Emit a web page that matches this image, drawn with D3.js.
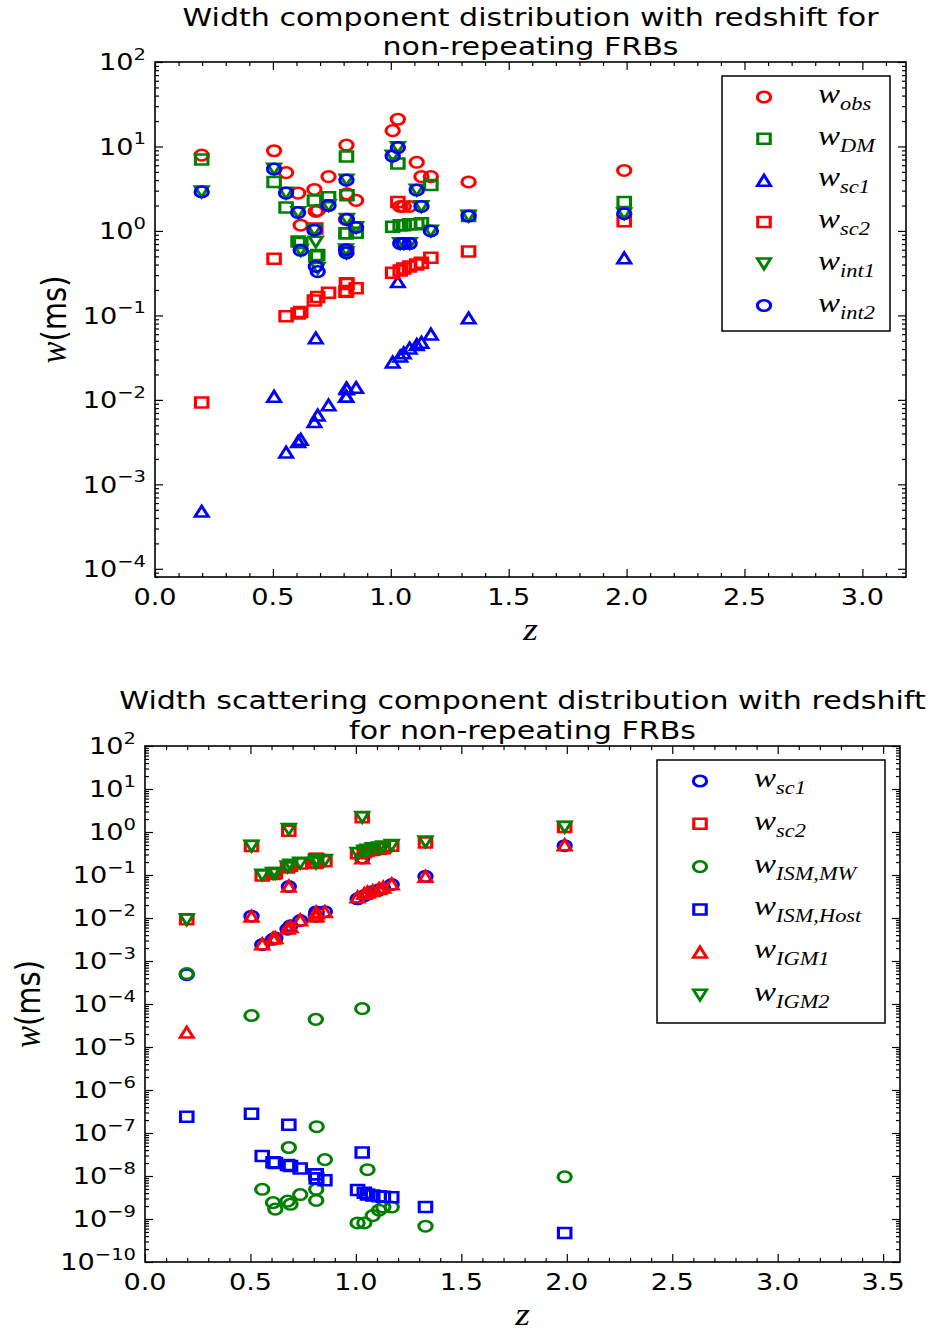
<!DOCTYPE html>
<html>
<head>
<meta charset="utf-8">
<script src="https://cdn.jsdelivr.net/npm/d3@7"></script>
<style>
  body { margin: 0; background: #fff; }
  text { fill: #000; }
</style>
</head>
<body>
<svg id="chart" width="937" height="1332"></svg>
<script>
// ---- data: one entry per non-repeating FRB ----
const z        = [0.198, 0.505, 0.556, 0.607, 0.618, 0.676, 0.682, 0.690, 0.736, 0.812, 0.814, 0.810, 0.812, 0.853,
                  1.008, 1.030, 1.040, 1.055, 1.080, 1.110, 1.130, 1.170, 1.330, 1.990];
// width components (ms)
const wObs     = [7.9, 8.9, 4.9, 2.8, 1.17, 3.1, 1.7, 1.75, 4.4, 10.4, 2.75, 1.37, 0.6, 2.3,
                  15.4, 21, 1.95, 1.95, 1.95, 6.5, 4.4, 4.4, 3.8, 5.2];
const wDM      = [7.0, 3.8, 1.9, 0.75, 0.72, 2.3, 0.5, 0.52, 2.5, 7.6, 2.65, 0.94, 0.94, 0.95,
                  1.12, 6.3, 1.17, 1.17, 1.2, 1.2, 1.23, 3.5, 1.5, 2.2];
const wSc1     = [4.8e-4, 0.011, 0.0024, 0.0032, 0.0034, 0.0055, 0.054, 0.0066, 0.0087, 0.0138, 0.0135, 0.011, 0.011, 0.014,
                  0.028, 0.25, 0.033, 0.036, 0.041, 0.045, 0.048, 0.060, 0.093, 0.48];
const wSc2     = [0.0093, 0.47, 0.098, 0.105, 0.11, 0.15, 1.07, 0.165, 0.186, 0.24, 0.235, 0.19, 0.195, 0.21,
                  0.32, 2.2, 0.34, 0.36, 0.38, 0.40, 0.42, 0.48, 0.57, 1.3];
const wInt1    = [2.9, 5.4, 2.8, 1.65, 0.59, 1.02, 0.74, 0.36, 2.0, 4.0, 1.37, 0.6, 0.55, 1.1,
                  7.7, 9.7, 0.71, 0.71, 0.71, 3.05, 1.95, 1.0, 1.5, 1.6];
const wInt2    = [2.9, 5.4, 2.8, 1.65, 0.59, 1.02, 0.38, 0.33, 2.0, 4.0, 1.37, 0.6, 0.55, 1.1,
                  7.7, 9.7, 0.71, 0.71, 0.71, 3.05, 1.95, 1.0, 1.5, 1.6];
// scattering sub-components (ms)
const wIsmMW   = [5.1e-4, 5.4e-5, 4.9e-9, 2.4e-9, 1.7e-9, 2.6e-9, 4.6e-8, 2.2e-9, 3.7e-9, 4.9e-9, 1.4e-7, 4.4e-5, 2.7e-9, 2.4e-8,
                  8.1e-10, 7.8e-5, 8.1e-10, 1.4e-8, 1.2e-9, 1.6e-9, 1.9e-9, 1.9e-9, 6.8e-10, 9.6e-9];
const wIsmHost = [2.4e-7, 2.8e-7, 2.9e-8, 2.1e-8, 2.0e-8, 1.8e-8, 1.55e-7, 1.7e-8, 1.5e-8, 1.1e-8, 8.9e-9, 1.1e-8, 8.9e-9, 8.0e-9,
                  4.7e-9, 3.5e-8, 4.1e-9, 3.7e-9, 3.5e-9, 3.4e-9, 3.3e-9, 3.2e-9, 1.9e-9, 4.7e-10];
const wIGM1    = [2.2e-5, 0.011, 0.0025, 0.0034, 0.0035, 0.0058, 0.055, 0.0063, 0.009, 0.0138, 0.013, 0.011, 0.0115, 0.014,
                  0.031, 0.25, 0.037, 0.040, 0.043, 0.048, 0.052, 0.062, 0.093, 0.50];
const wIGM2    = [0.0091, 0.47, 0.10, 0.11, 0.11, 0.155, 1.15, 0.17, 0.19, 0.22, 0.22, 0.19, 0.20, 0.22,
                  0.32, 2.2, 0.36, 0.38, 0.41, 0.43, 0.45, 0.49, 0.59, 1.3];

// ---- tick labels ----
const xTickLabelsTop    = ["0.0", "0.5", "1.0", "1.5", "2.0", "2.5", "3.0"];
const xTickLabelsBottom = ["0.0", "0.5", "1.0", "1.5", "2.0", "2.5", "3.0", "3.5"];
const yExponentsTop     = [-4, -3, -2, -1, 0, 1, 2];
const yExponentsBottom  = [-10, -9, -8, -7, -6, -5, -4, -3, -2, -1, 0, 1, 2];

// ---- styling ----
const RED = "#ff0000", GREEN = "#008000", BLUE = "#0000ff";
const SX = 1.25;          // markers are drawn wider than tall
const TX = 1.18;          // text is widened the same way
const SANS = "DejaVu Sans";
const SERIF = "Liberation Serif";

const svg = d3.select("#chart");

// exponent text with a true minus sign
const expText = e => (e < 0 ? "\u2212" : "") + Math.abs(e);

// text anchored at (x, y), widened horizontally
function addText(g, x, y, size, opts = {}) {
  const rot = opts.rotate ? ` rotate(${opts.rotate})` : "";
  return g.append("text")
    .attr("transform", `translate(${x},${y}) scale(${TX},1)${rot}`)
    .attr("text-anchor", opts.anchor || "start")
    .attr("font-family", opts.family || SANS)
    .attr("font-style", opts.italic ? "italic" : "normal")
    .attr("font-size", size);
}

// marker outlines in local coordinates
function markerPath(kind) {
  const p = d3.path();
  if (kind === "circle") {
    const r = 5.3;
    p.moveTo(r, 0); p.arc(0, 0, r, 0, 2 * Math.PI); p.closePath();
  } else if (kind === "square") {
    const h = 5.0;
    p.moveTo(-h, -h); p.lineTo(h, -h); p.lineTo(h, h); p.lineTo(-h, h); p.closePath();
  } else if (kind === "triUp") {
    const h = 5.3;
    p.moveTo(0, -h); p.lineTo(h, h); p.lineTo(-h, h); p.closePath();
  } else {
    const h = 5.3;
    p.moveTo(0, h); p.lineTo(h, -h); p.lineTo(-h, -h); p.closePath();
  }
  return p.toString();
}

function drawMarker(g, kind, color, x, y) {
  g.append("path")
    .attr("d", markerPath(kind))
    .attr("transform", `translate(${x},${y}) scale(${SX},1)`)
    .attr("fill", "none")
    .attr("stroke", color)
    .attr("stroke-width", 2.5)
    .attr("stroke-linejoin", "miter");
}

function drawPanel(cfg) {
  const x = d3.scaleLinear().domain([0, cfg.xMax]).range([cfg.left, cfg.right]);
  const y = d3.scaleLog().domain([cfg.yMin, cfg.yMax]).range([cfg.bottom, cfg.top]);
  const g = svg.append("g");

  // tick positions
  const xMajor = cfg.xLabels.map(s => +s);
  const xMinor = d3.range(0, Math.floor(cfg.xMax * 10 + 1e-6) + 1).map(i => i / 10)
    .filter(v => !xMajor.some(m => Math.abs(m - v) < 1e-9));
  const yMajor = cfg.yExps.map(e => Math.pow(10, e));
  const yMinor = [];
  const e0 = Math.floor(Math.log10(cfg.yMin)), e1 = Math.ceil(Math.log10(cfg.yMax));
  for (let e = e0; e < e1; e++) for (let k = 2; k <= 9; k++) {
    const v = k * Math.pow(10, e);
    if (v >= cfg.yMin && v <= cfg.yMax) yMinor.push(v);
  }

  const w = cfg.right - cfg.left, h = cfg.bottom - cfg.top;
  const tickStyle = sel => {
    sel.select(".domain").remove();
    sel.selectAll("line").attr("stroke", "#000").attr("stroke-width", 1.2);
  };
  const MAJ = 8, MIN = 4;
  // inward ticks on all four sides
  g.append("g").attr("transform", `translate(0,${cfg.bottom})`)
    .call(d3.axisBottom(x).tickValues(xMajor).tickSize(-MAJ).tickFormat("")).call(tickStyle);
  g.append("g").attr("transform", `translate(0,${cfg.bottom})`)
    .call(d3.axisBottom(x).tickValues(xMinor).tickSize(-MIN).tickFormat("")).call(tickStyle);
  g.append("g").attr("transform", `translate(0,${cfg.top})`)
    .call(d3.axisTop(x).tickValues(xMajor).tickSize(-MAJ).tickFormat("")).call(tickStyle);
  g.append("g").attr("transform", `translate(0,${cfg.top})`)
    .call(d3.axisTop(x).tickValues(xMinor).tickSize(-MIN).tickFormat("")).call(tickStyle);
  g.append("g").attr("transform", `translate(${cfg.left},0)`)
    .call(d3.axisLeft(y).tickValues(yMajor).tickSize(-MAJ).tickFormat("")).call(tickStyle);
  g.append("g").attr("transform", `translate(${cfg.left},0)`)
    .call(d3.axisLeft(y).tickValues(yMinor).tickSize(-MIN).tickFormat("")).call(tickStyle);
  g.append("g").attr("transform", `translate(${cfg.right},0)`)
    .call(d3.axisRight(y).tickValues(yMajor).tickSize(-MAJ).tickFormat("")).call(tickStyle);
  g.append("g").attr("transform", `translate(${cfg.right},0)`)
    .call(d3.axisRight(y).tickValues(yMinor).tickSize(-MIN).tickFormat("")).call(tickStyle);

  // frame
  g.append("rect").attr("x", cfg.left).attr("y", cfg.top).attr("width", w).attr("height", h)
    .attr("fill", "none").attr("stroke", "#000").attr("stroke-width", 1.6);

  // x tick labels
  const ts = cfg.tickSize;
  cfg.xLabels.forEach(d => {
    addText(g, x(+d), cfg.bottom + 28, ts, { anchor: "middle" }).text(d);
  });

  // y tick labels as powers of ten
  cfg.yExps.forEach(d => {
    const t = addText(g, cfg.left - 9, y(Math.pow(10, d)) + ts * 0.36, ts, { anchor: "end" });
    t.append("tspan").text("10");
    t.append("tspan").attr("dy", -ts * 0.45).attr("font-size", ts * 0.72).text(expText(d));
  });

  // title
  cfg.title.forEach((line, i) => {
    addText(g, (cfg.left + cfg.right) / 2, cfg.titleY[i], cfg.titleSize, { anchor: "middle" }).text(line);
  });

  // axis labels
  addText(g, (cfg.left + cfg.right) / 2, cfg.xlabelY, 32, { anchor: "middle", family: SERIF, italic: true })
    .text("z");
  const ylab = addText(g, cfg.ylabelX, (cfg.top + cfg.bottom) / 2, 29, { anchor: "middle", rotate: -90 });
  ylab.append("tspan").attr("font-family", SERIF).attr("font-style", "italic").attr("font-size", 33).text("w");
  ylab.append("tspan").text("(ms)");

  // data markers, drawn series by series
  const marks = g.append("g");
  cfg.series.forEach(s => {
    z.forEach((zi, i) => drawMarker(marks, s.shape, s.color, x(zi), y(s.values[i])));
  });

  // legend
  const L = cfg.legend;
  const lg = g.append("g");
  lg.append("rect").attr("x", L.x).attr("y", L.y).attr("width", L.w).attr("height", L.h)
    .attr("fill", "#fff").attr("stroke", "#000").attr("stroke-width", 1.5);
  cfg.series.forEach((s, i) => {
    const cy = L.y0 + i * L.dy;
    drawMarker(lg, s.shape, s.color, L.mx, cy);
    const t = addText(lg, L.lx, cy + 6, 28, { family: SERIF, italic: true });
    t.append("tspan").text("w");
    t.append("tspan").attr("dy", 7).attr("font-size", 19).text(s.sub);
  });
}

drawPanel({
  title: ["Width component distribution with redshift for", "non-repeating FRBs"],
  titleY: [26, 55], titleSize: 25.5, tickSize: 23,
  left: 155, right: 906, top: 62, bottom: 577,
  xMax: 3.185, yMin: 8e-5, yMax: 1e2,
  xLabels: xTickLabelsTop, yExps: yExponentsTop,
  ylabelX: 66, xlabelY: 640,
  legend: { x: 722, y: 76, w: 168, h: 255, mx: 764, lx: 818, y0: 97, dy: 41.7 },
  series: [
    { sub: "obs",  values: wObs,  shape: "circle", color: RED },
    { sub: "DM",   values: wDM,   shape: "square", color: GREEN },
    { sub: "sc1",  values: wSc1,  shape: "triUp",  color: BLUE },
    { sub: "sc2",  values: wSc2,  shape: "square", color: RED },
    { sub: "int1", values: wInt1, shape: "triDown", color: GREEN },
    { sub: "int2", values: wInt2, shape: "circle", color: BLUE }
  ]
});

drawPanel({
  title: ["Width scattering component distribution with redshift", "for non-repeating FRBs"],
  titleY: [709, 739], titleSize: 25.5, tickSize: 23,
  left: 145, right: 900, top: 746, bottom: 1262,
  xMax: 3.58, yMin: 1e-10, yMax: 1e2,
  xLabels: xTickLabelsBottom, yExps: yExponentsBottom,
  ylabelX: 40, xlabelY: 1325,
  legend: { x: 657, y: 760, w: 228, h: 263, mx: 700, lx: 754, y0: 781, dy: 42.8 },
  series: [
    { sub: "sc1",      values: wSc1,     shape: "circle", color: BLUE },
    { sub: "sc2",      values: wSc2,     shape: "square", color: RED },
    { sub: "ISM,MW",   values: wIsmMW,   shape: "circle", color: GREEN },
    { sub: "ISM,Host", values: wIsmHost, shape: "square", color: BLUE },
    { sub: "IGM1",     values: wIGM1,    shape: "triUp",  color: RED },
    { sub: "IGM2",     values: wIGM2,    shape: "triDown", color: GREEN }
  ]
});
</script>
</body>
</html>
